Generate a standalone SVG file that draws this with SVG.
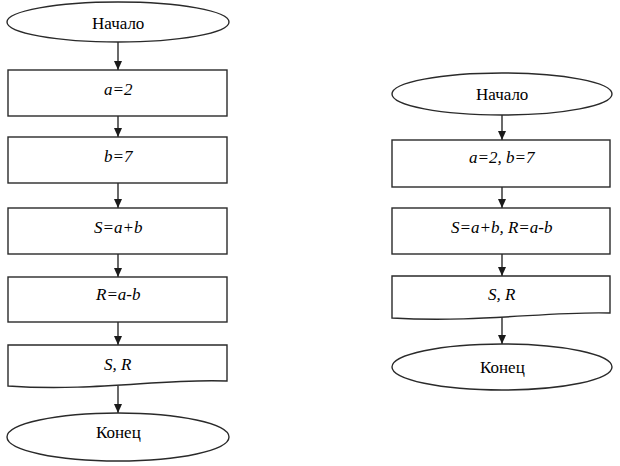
<svg xmlns="http://www.w3.org/2000/svg" width="620" height="466" viewBox="0 0 620 466">
<defs>
<marker id="ah" markerWidth="10" markerHeight="10" refX="9" refY="5" orient="auto" markerUnits="userSpaceOnUse">
<path d="M0,1 L9,5 L0,9 Z" fill="#1a1a1a"/>
</marker>
</defs>
<rect width="620" height="466" fill="#fff"/>
<g id="connectors" stroke="#1a1a1a" stroke-width="1.3" fill="none" marker-end="url(#ah)">
<line x1="118" y1="42" x2="118" y2="70"/>
<line x1="118" y1="116" x2="118" y2="137"/>
<line x1="118" y1="183" x2="118" y2="208"/>
<line x1="118" y1="254" x2="118" y2="277"/>
<line x1="118" y1="322" x2="118" y2="345"/>
<line x1="118" y1="386" x2="118" y2="413"/>
<line x1="502" y1="115" x2="502" y2="140"/>
<line x1="502" y1="187" x2="502" y2="208"/>
<line x1="502" y1="254" x2="502" y2="276"/>
<line x1="502" y1="317" x2="502" y2="344"/>
</g>
<g id="l-start">
<ellipse cx="118" cy="22" rx="111" ry="20" fill="#fff" stroke="#2a2a2a" stroke-width="1.4"/>
<text x="92" y="29" font-family="Liberation Serif" font-size="17">Начало</text>
</g>
<g id="l-a">
<rect x="8" y="70" width="219" height="46" fill="#fff" stroke="#2a2a2a" stroke-width="1.4"/>
<text x="104" y="95" font-family="Liberation Serif" font-size="17" font-style="italic">a=2</text>
</g>
<g id="l-b">
<rect x="8" y="137" width="219" height="46" fill="#fff" stroke="#2a2a2a" stroke-width="1.4"/>
<text x="104" y="162" font-family="Liberation Serif" font-size="17" font-style="italic">b=7</text>
</g>
<g id="l-s">
<rect x="8" y="208" width="219" height="46" fill="#fff" stroke="#2a2a2a" stroke-width="1.4"/>
<text x="94" y="233" font-family="Liberation Serif" font-size="17" font-style="italic">S=a+b</text>
</g>
<g id="l-r">
<rect x="8" y="277" width="219" height="45" fill="#fff" stroke="#2a2a2a" stroke-width="1.4"/>
<text x="96" y="300" font-family="Liberation Serif" font-size="17" font-style="italic">R=a-b</text>
</g>
<g id="l-out">
<path d="M8,345 H227 V381 C165,378 95,392 8,386 Z" fill="#fff" stroke="#2a2a2a" stroke-width="1.4"/>
<text x="104" y="370" font-family="Liberation Serif" font-size="17" font-style="italic">S, R</text>
</g>
<g id="l-end">
<ellipse cx="118" cy="437" rx="111" ry="24" fill="#fff" stroke="#2a2a2a" stroke-width="1.4"/>
<text x="96" y="438" font-family="Liberation Serif" font-size="17">Конец</text>
</g>
<g id="r-start">
<ellipse cx="502" cy="94" rx="110" ry="21" fill="#fff" stroke="#2a2a2a" stroke-width="1.4"/>
<text x="476" y="100" font-family="Liberation Serif" font-size="17">Начало</text>
</g>
<g id="r-ab">
<rect x="392" y="140" width="218" height="47" fill="#fff" stroke="#2a2a2a" stroke-width="1.4"/>
<text x="469" y="163" font-family="Liberation Serif" font-size="17" font-style="italic">a=2, b=7</text>
</g>
<g id="r-sr">
<rect x="392" y="208" width="218" height="46" fill="#fff" stroke="#2a2a2a" stroke-width="1.4"/>
<text x="451" y="233" font-family="Liberation Serif" font-size="17" font-style="italic">S=a+b, R=a-b</text>
</g>
<g id="r-out">
<path d="M392,276 H610 V313 C550,311 480,323 392,318 Z" fill="#fff" stroke="#2a2a2a" stroke-width="1.4"/>
<text x="488" y="300" font-family="Liberation Serif" font-size="17" font-style="italic">S, R</text>
</g>
<g id="r-end">
<ellipse cx="502" cy="367" rx="110" ry="23" fill="#fff" stroke="#2a2a2a" stroke-width="1.4"/>
<text x="480" y="373" font-family="Liberation Serif" font-size="17">Конец</text>
</g>
</svg>
